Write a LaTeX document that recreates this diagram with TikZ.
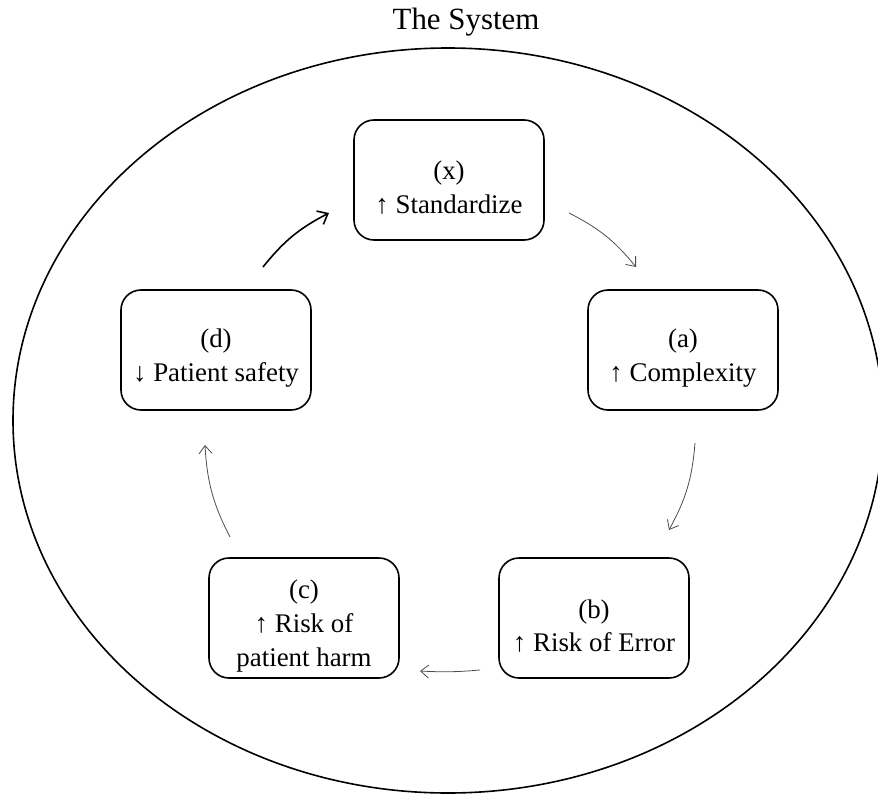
\documentclass[tikz,border=0pt]{standalone}
\usepackage{fontspec}
\setmainfont{Liberation Serif}
\usetikzlibrary{arrows.meta}
\begin{document}
\begin{tikzpicture}[x=1bp,y=-1bp,
  stage/.style={draw, line width=1.6bp, rounded corners=20bp,
    minimum width=190bp, minimum height=120bp, inner sep=0pt},
  stagetext/.style={align=center, font=\fontsize{27}{34}\selectfont, inner sep=0pt},
  flow/.style={-{Straight Barb[length=8bp,width=13bp]}, line width=0.8bp, black!70},
  mainflow/.style={-{Straight Barb[length=9bp,width=15bp]}, line width=1.6bp, black}]
\useasboundingbox (0,0) rectangle (878,795);
\begin{scope}
  \clip (0,0) rectangle (878,795);
  \draw[line width=1.6bp] (448,420.5) ellipse [x radius=435, y radius=372.5];
\end{scope}
\node[font=\fontsize{31}{36}\selectfont] (title) at (466,22) {The System};

% the five stages of the cycle
\node[stage] (x) at (449,180) {};
\node[stage] (a) at (683,350) {};
\node[stage] (b) at (594,618) {};
\node[stage] (c) at (304,618) {};
\node[stage] (d) at (216,350) {};

\node[stagetext] (x-text) at ([yshift=-8bp]x.center) {(x)\\↑ Standardize};
\node[stagetext] (a-text) at ([yshift=-8bp]a.center) {(a)\\↑ Complexity};
\node[stagetext] (b-text) at ([yshift=-8bp]b.center) {(b)\\↑ Risk of Error};
\node[stagetext] (c-text) at ([yshift=-8bp]c.center) {(c)\\↑ Risk of\\patient harm};
\node[stagetext] (d-text) at ([yshift=-8bp]d.center) {(d)\\↓ Patient safety};

% arrow ends, set apart from the boxes
\coordinate (d-out) at (263,267);
\coordinate (x-in)  at (329,213);
\coordinate (x-out) at (569,213);
\coordinate (a-in)  at (636,267);
\coordinate (a-out) at (695,443);
\coordinate (b-in)  at (669,530);
\coordinate (b-out) at (480,670);
\coordinate (c-in)  at (420,671);
\coordinate (c-out) at (230,537);
\coordinate (d-in)  at (205,445);

\draw[mainflow] (d-out) to[bend left=12] (x-in);
\draw[flow] (x-out) to[bend left=12] (a-in);
\draw[flow] (a-out) to[bend left=12] (b-in);
\draw[flow] (b-out) to[bend left=4] (c-in);
\draw[flow] (c-out) to[bend left=12] (d-in);
\end{tikzpicture}
\end{document}
